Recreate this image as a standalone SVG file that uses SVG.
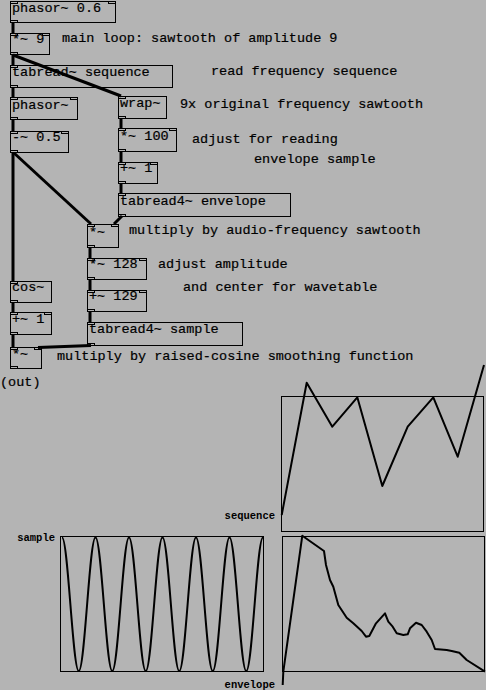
<svg xmlns="http://www.w3.org/2000/svg" width="486" height="690" viewBox="0 0 486 690">
<style>
.bx{fill:none;stroke:#000;stroke-width:1}
.io{fill:none;stroke:#000;stroke-width:1}
.t{font-family:"Liberation Mono","Courier New",monospace;font-size:13.5px;fill:#000;stroke:#000;stroke-width:0.2}
.lb{font-family:"Liberation Mono","Courier New",monospace;font-size:10.5px;font-weight:bold;fill:#000}
.cn{fill:none;stroke:#000;stroke-width:3}
.pl{fill:none;stroke:#000;stroke-width:2;stroke-linejoin:round}
</style>
<rect x="0" y="0" width="486" height="690" fill="#b4b4b4"/>

<g id="connectors">
<path class="cn" d="M13,23V33"/>
<path class="cn" d="M13,55V65"/>
<path class="cn" d="M13,55L121,96"/>
<path class="cn" d="M13,88V97"/>
<path class="cn" d="M13,120V131"/>
<path class="cn" d="M121,119V128"/>
<path class="cn" d="M121,152V162"/>
<path class="cn" d="M121,184V194"/>
<path class="cn" d="M13,153V281"/>
<path class="cn" d="M14,153L91,224"/>
<path class="cn" d="M122,216L114,224"/>
<path class="cn" d="M90,248V258"/>
<path class="cn" d="M90,280V290"/>
<path class="cn" d="M90,312V322"/>
<path class="cn" d="M13,303V312"/>
<path class="cn" d="M13,335V347"/>
<path class="cn" d="M91,345.5L38,347.5"/>
</g>

<g id="n-phasor06">
<rect class="bx" x="10.5" y="1.5" width="105" height="21"/>
<rect class="io" x="10.5" y="1.5" width="7" height="2"/><rect class="io" x="108.5" y="1.5" width="7" height="2"/>
<rect class="io" x="10.5" y="20.5" width="7" height="2"/>
<text class="t" x="12" y="12">phasor~ 0.6</text>
</g>
<g id="n-mul9">
<rect class="bx" x="10.5" y="33.5" width="39" height="21"/>
<rect class="io" x="10.5" y="33.5" width="7" height="2"/><rect class="io" x="42.5" y="33.5" width="7" height="2"/>
<rect class="io" x="10.5" y="52.5" width="7" height="2"/>
<text class="t" x="12" y="43">*~ 9</text>
</g>
<g id="n-tabread-seq">
<rect class="bx" x="10.5" y="65.5" width="162" height="22"/>
<rect class="io" x="10.5" y="65.5" width="7" height="2"/>
<rect class="io" x="10.5" y="85.5" width="7" height="2"/>
<text class="t" x="12" y="76">tabread~ sequence</text>
</g>
<g id="n-phasor">
<rect class="bx" x="10.5" y="97.5" width="67" height="22"/>
<rect class="io" x="10.5" y="97.5" width="7" height="2"/><rect class="io" x="70.5" y="97.5" width="7" height="2"/>
<rect class="io" x="10.5" y="117.5" width="7" height="2"/>
<text class="t" x="12" y="109">phasor~</text>
</g>
<g id="n-wrap">
<rect class="bx" x="118.5" y="96.5" width="48" height="22"/>
<rect class="io" x="118.5" y="96.5" width="7" height="2"/>
<rect class="io" x="118.5" y="116.5" width="7" height="2"/>
<text class="t" x="120" y="107">wrap~</text>
</g>
<g id="n-sub05">
<rect class="bx" x="10.5" y="131.5" width="58" height="21"/>
<rect class="io" x="10.5" y="131.5" width="7" height="2"/><rect class="io" x="61.5" y="131.5" width="7" height="2"/>
<rect class="io" x="10.5" y="150.5" width="7" height="2"/>
<text class="t" x="12" y="141">-~ 0.5</text>
</g>
<g id="n-mul100">
<rect class="bx" x="118.5" y="128.5" width="58" height="23"/>
<rect class="io" x="118.5" y="128.5" width="7" height="2"/><rect class="io" x="169.5" y="128.5" width="7" height="2"/>
<rect class="io" x="118.5" y="149.5" width="7" height="2"/>
<text class="t" x="120" y="140">*~ 100</text>
</g>
<g id="n-add1r">
<rect class="bx" x="118.5" y="162.5" width="39" height="21"/>
<rect class="io" x="118.5" y="162.5" width="7" height="2"/><rect class="io" x="150.5" y="162.5" width="7" height="2"/>
<rect class="io" x="118.5" y="181.5" width="7" height="2"/>
<text class="t" x="120" y="172">+~ 1</text>
</g>
<g id="n-tabread-env">
<rect class="bx" x="118.5" y="193.5" width="172" height="23"/>
<rect class="io" x="118.5" y="193.5" width="7" height="2"/>
<rect class="io" x="118.5" y="214.5" width="7" height="2"/>
<text class="t" x="120" y="205">tabread4~ envelope</text>
</g>
<g id="n-mul-mid">
<rect class="bx" x="87.5" y="224.5" width="31" height="23"/>
<rect class="io" x="87.5" y="224.5" width="7" height="2"/><rect class="io" x="111.5" y="224.5" width="7" height="2"/>
<rect class="io" x="87.5" y="245.5" width="7" height="2"/>
<text class="t" x="89" y="236">*~</text>
</g>
<g id="n-mul128">
<rect class="bx" x="87.5" y="258.5" width="59" height="21"/>
<rect class="io" x="87.5" y="258.5" width="7" height="2"/><rect class="io" x="139.5" y="258.5" width="7" height="2"/>
<rect class="io" x="87.5" y="277.5" width="7" height="2"/>
<text class="t" x="89" y="268">*~ 128</text>
</g>
<g id="n-add129">
<rect class="bx" x="87.5" y="290.5" width="59" height="21"/>
<rect class="io" x="87.5" y="290.5" width="7" height="2"/><rect class="io" x="139.5" y="290.5" width="7" height="2"/>
<rect class="io" x="87.5" y="309.5" width="7" height="2"/>
<text class="t" x="89" y="300">+~ 129</text>
</g>
<g id="n-tabread-sample">
<rect class="bx" x="87.5" y="322.5" width="155" height="23"/>
<rect class="io" x="87.5" y="322.5" width="7" height="2"/>
<rect class="io" x="87.5" y="343.5" width="7" height="2"/>
<text class="t" x="89" y="333">tabread4~ sample</text>
</g>
<g id="n-cos">
<rect class="bx" x="10.5" y="281.5" width="41" height="21"/>
<rect class="io" x="10.5" y="281.5" width="7" height="2"/>
<rect class="io" x="10.5" y="300.5" width="7" height="2"/>
<text class="t" x="12" y="291">cos~</text>
</g>
<g id="n-add1l">
<rect class="bx" x="10.5" y="312.5" width="41" height="22"/>
<rect class="io" x="10.5" y="312.5" width="7" height="2"/><rect class="io" x="44.5" y="312.5" width="7" height="2"/>
<rect class="io" x="10.5" y="332.5" width="7" height="2"/>
<text class="t" x="12" y="323">+~ 1</text>
</g>
<g id="n-mul-out">
<rect class="bx" x="10.5" y="347.5" width="31" height="21"/>
<rect class="io" x="10.5" y="347.5" width="7" height="2"/><rect class="io" x="34.5" y="347.5" width="7" height="2"/>
<rect class="io" x="10.5" y="366.5" width="7" height="2"/>
<text class="t" x="12" y="358">*~</text>
</g>

<g id="comments">
<text class="t" x="62" y="42">main loop: sawtooth of amplitude 9</text>
<text class="t" x="211" y="75">read frequency sequence</text>
<text class="t" x="180" y="108">9x original frequency sawtooth</text>
<text class="t" x="192" y="143">adjust for reading</text>
<text class="t" x="254" y="163">envelope sample</text>
<text class="t" x="129" y="234">multiply by audio-frequency sawtooth</text>
<text class="t" x="158" y="268">adjust amplitude</text>
<text class="t" x="183" y="291">and center for wavetable</text>
<text class="t" x="57" y="360">multiply by raised-cosine smoothing function</text>
<text class="t" x="0" y="386">(out)</text>
</g>

<g id="graph-sequence">
<rect class="bx" x="281.5" y="396.5" width="202" height="135"/>
<polyline class="pl" points="281.7,515 306.7,382.7 332.3,426.7 357.3,397.3 382.3,486 407.7,426.7 433.3,397.3 457.7,456.7 484,365"/>
<text class="lb" x="275" y="519" text-anchor="end">sequence</text>
</g>

<g id="graph-sample">
<rect class="bx" x="60.5" y="536.5" width="203" height="135"/>
<path class="pl" d="M62,537.5 c6.1,0 10.65,133.5 16.75,133.5 s10.65,-133.5 16.75,-133.5 s10.65,133.5 16.75,133.5 s10.65,-133.5 16.75,-133.5 s10.65,133.5 16.75,133.5 s10.65,-133.5 16.75,-133.5 s10.65,133.5 16.75,133.5 s10.65,-133.5 16.75,-133.5 s10.65,133.5 16.75,133.5 s10.65,-133.5 16.75,-133.5 s10.65,133.5 16.75,133.5 s10.65,-133.5 16.75,-133.5"/>
<text class="lb" x="55" y="541" text-anchor="end">sample</text>
</g>

<g id="graph-envelope">
<rect class="bx" x="282.5" y="536.5" width="202" height="135"/>
<polyline class="pl" points="282.7,685 283.3,671.7 302.3,535.7 324,551 326,565 330,580 333.3,586.7 338.3,605 346.7,617.7 353.3,623.3 361.7,631 366,636.7 369.3,636 376,623.3 385,613.3 388.3,621.7 392.7,626.7 396.7,633.3 403.3,635 407.7,634.3 410,628.3 416,622.7 421.7,625 426.7,631.7 431.7,640 435,649 446.7,650 451.7,651 459.3,652.7 466.7,660 485,671.7"/>
<text class="lb" x="275" y="688" text-anchor="end">envelope</text>
</g>
</svg>
